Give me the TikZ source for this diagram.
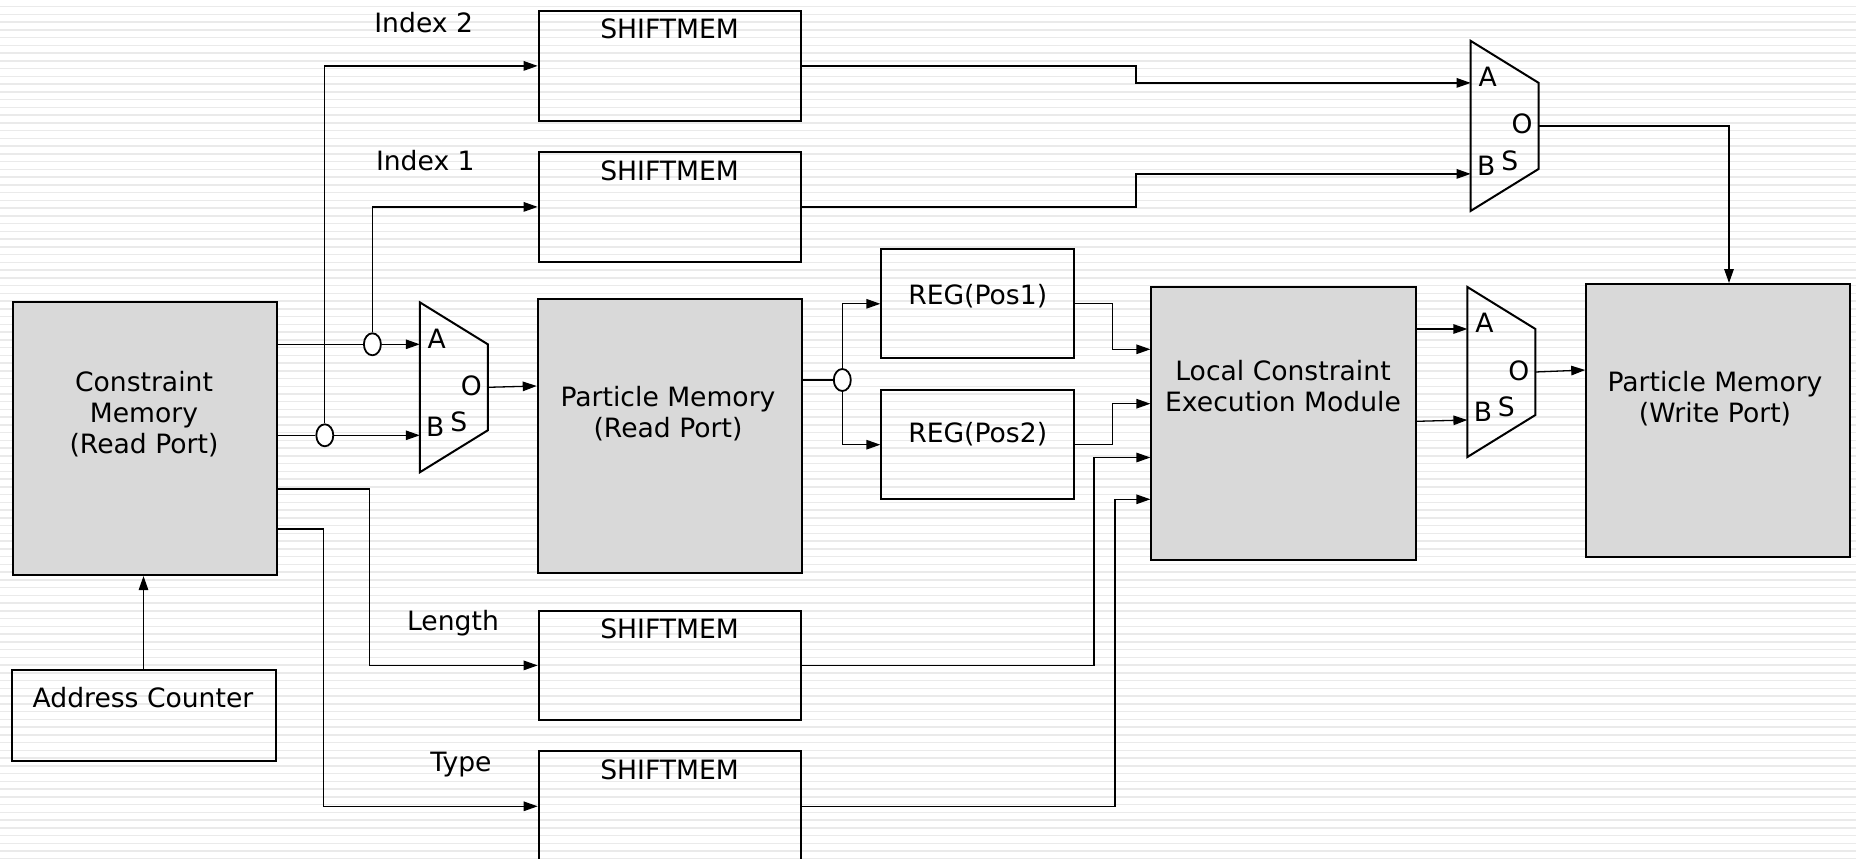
\documentclass[tikz,border=0pt]{standalone}
\usepackage{fontspec}
\setmainfont{DejaVu Sans}
\usetikzlibrary{arrows.meta,shapes.geometric}
\definecolor{memgray}{RGB}{217,217,217}
\definecolor{stripegray}{RGB}{234,234,234}

\tikzset{
  blk/.style={draw, line width=2pt, inner sep=0pt},
  mem/.style={blk, fill=memgray},
  txt/.style={inner sep=0pt, anchor=base},
  wire/.style={line width=1.3pt},
  arr/.style={wire, -{Triangle[length=14pt,width=9.5pt]}},
  tap/.style={ellipse, draw, line width=1.8pt, fill=white,
              minimum width=17pt, minimum height=22pt, inner sep=0pt},
  muxline/.style={line width=2pt, line join=miter},
  stripe/.style={stripegray, line width=1.5pt},
  % 2:1 multiplexer, placed by the middle of its left edge
  mux/.pic={
    \draw[muxline] (0,-85) -- (68,-43) -- (68,43) -- (0,85) -- cycle;
    \coordinate (-A) at (0,-43);
    \coordinate (-B) at (0,48);
    \coordinate (-O) at (68,0);
    \node[txt] (-a) at (17,-39.3) {A};
    \node[txt] (-o) at (51.5,8) {O};
    \node[txt] (-b) at (15.5,49.6) {B};
    \node[txt] (-s) at (39,44.4) {S};
  }
}

\begin{document}
\begin{tikzpicture}[x=1pt, y=-1pt, font=\fontsize{26.6}{31}\selectfont]
  % page and ruled background
  \fill[white] (0,0) rectangle (1856,859);
  \useasboundingbox (0,0) rectangle (1856,859);
  \foreach \k in {0,...,110}
    \draw[stripe] (0,{6.7+7.746*\k}) -- (1856,{6.7+7.746*\k});

  % constraint memory and its address counter
  \node[mem, minimum width=263.6pt, minimum height=272.7pt] (CM) at (145.2,438.7) {};
  \node[txt] (CMt) at (144,391.7) {\begin{tabular}[t]{@{}c@{}}Constraint\\Memory\\(Read Port)\end{tabular}};
  \node[blk, minimum width=264pt, minimum height=91pt] (AC) at (143.5,715.5) {};
  \node[txt] (ACt) at (143,707.7) {Address Counter};

  % shift memories
  \node[blk, minimum width=261.8pt, minimum height=109.7pt] (SM1) at (669.6,65.9) {};
  \node[blk, minimum width=261.8pt, minimum height=109.7pt] (SM2) at (669.6,206.9) {};
  \node[blk, minimum width=261.8pt, minimum height=109.7pt] (SM3) at (669.6,665.4) {};
  \node[blk, minimum width=261.8pt, minimum height=109.7pt] (SM4) at (669.6,806.3) {};
  \node[txt] (SM1t) at (669.6,39) {SHIFTMEM};
  \node[txt] (SM2t) at (669.6,180) {SHIFTMEM};
  \node[txt] (SM3t) at (669.6,638.6) {SHIFTMEM};
  \node[txt] (SM4t) at (669.6,779.5) {SHIFTMEM};
  \node[txt] (lbI2) at (423.7,32.3) {Index 2};
  \node[txt] (lbI1) at (425.3,170.7) {Index 1};
  \node[txt] (lbLen) at (453,630.7) {Length};
  \node[txt] (lbTyp) at (461,771.7) {Type};

  % particle memory read port and position registers
  \node[mem, minimum width=264.3pt, minimum height=274pt] (PMR) at (669.9,436.3) {};
  \node[txt] (PMRt) at (668,406) {\begin{tabular}[t]{@{}c@{}}Particle Memory\\(Read Port)\end{tabular}};
  \node[blk, minimum width=192.7pt, minimum height=109pt] (REG1) at (977.7,303.8) {};
  \node[blk, minimum width=192.7pt, minimum height=109pt] (REG2) at (977.7,444.7) {};
  \node[txt] (REG1t) at (977.7,304) {REG(Pos1)};
  \node[txt] (REG2t) at (977.7,442) {REG(Pos2)};

  % execution module and particle memory write port
  \node[mem, minimum width=264.4pt, minimum height=272.7pt] (LCEM) at (1283.6,423.7) {};
  \node[txt] (LCEMt) at (1283,380) {\begin{tabular}[t]{@{}c@{}}Local Constraint\\Execution Module\end{tabular}};
  \node[mem, minimum width=263.8pt, minimum height=273.3pt] (PMW) at (1718.1,420.7) {};
  \node[txt] (PMWt) at (1715,391.7) {\begin{tabular}[t]{@{}c@{}}Particle Memory\\(Write Port)\end{tabular}};

  % multiplexers
  \pic (mxI) at (419.8,387.3) {mux};
  \pic (mxT) at (1470.7,125.9) {mux};
  \pic (mxW) at (1467.4,372) {mux};

  % wire taps
  \node[tap] (j1) at (372.4,344.3) {};
  \node[tap] (j2) at (324.8,435.3) {};
  \node[tap] (j3) at (842.3,380) {};

  % constraint memory outputs
  \draw[wire] (CM.east |- j1) -- (j1.west);
  \draw[arr] (j1.east) -- (mxI-A);
  \draw[wire] (CM.east |- j2) -- (j2.west);
  \draw[arr] (j2.east) -- (mxI-B);
  \draw[arr] (j2.north) |- (SM1.west);
  \draw[arr] (j1.north) |- (SM2.west);
  \draw[arr] (CM.east |- 0,489) -- (369.7,489) |- (SM3.west);
  \draw[arr] (CM.east |- 0,529) -- (323.2,529) |- (SM4.west);
  \draw[arr] (AC.north) -- (AC.north |- CM.south);

  % read port to registers
  \draw[arr] (mxI-O) -- (PMR.west |- 0,386);
  \draw[wire] (PMR.east |- j3) -- (j3.west);
  \draw[arr] (j3.north) |- (REG1.west);
  \draw[arr] (j3.south) |- (REG2.west);

  % execution module inputs
  \draw[arr] (REG1.east) -- ++(37.7,0) |- (LCEM.west |- 0,349.3);
  \draw[arr] (REG2.east) -- ++(37.7,0) |- (LCEM.west |- 0,403.7);
  \draw[arr] (SM3.east) -- (1094,665.4) |- (LCEM.west |- 0,457.5);
  \draw[arr] (SM4.east) -- (1115,806.3) |- (LCEM.west |- 0,499.3);

  % index path to the write port
  \draw[arr] (SM1.east) -- (1136,65.9) |- (mxT-A);
  \draw[arr] (SM2.east) -- (1136,206.9) |- (mxT-B);
  \draw[arr] (mxT-O) -| (PMW.north -| 1729,0);

  % results to the write port
  \draw[arr] (LCEM.east |- mxW-A) -- (mxW-A);
  \draw[arr] (LCEM.east |- 0,421.3) -- (mxW-B);
  \draw[arr] (mxW-O) -- (PMW.west |- 0,370);
\end{tikzpicture}
\end{document}
